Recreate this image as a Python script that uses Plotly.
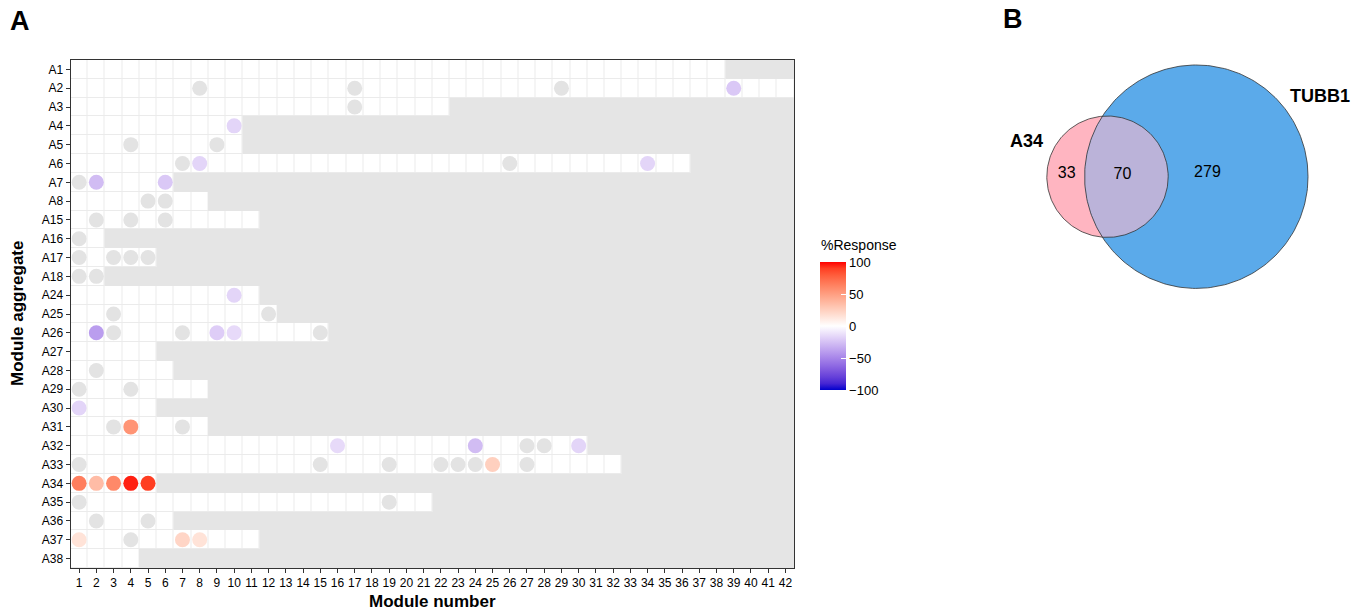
import numpy as np
import plotly.graph_objects as go

# ---------------- data ----------------
aggregates = ["A1", "A2", "A3", "A4", "A5", "A6", "A7", "A8", "A15", "A16", "A17", "A18",
              "A24", "A25", "A26", "A27", "A28", "A29", "A30", "A31", "A32", "A33", "A34",
              "A35", "A36", "A37", "A38"]
# number of modules in each aggregate
module_counts = [38, 42, 22, 10, 10, 36, 6, 8, 11, 2, 5, 2,
                 11, 12, 15, 5, 6, 8, 5, 8, 30, 32, 5,
                 21, 6, 11, 4]

# modules with a significant response (%Response)
resp_aggregate = ["A2", "A4", "A6", "A6", "A7", "A7", "A24",
                  "A26", "A26", "A26", "A30", "A31",
                  "A32", "A32", "A32", "A33",
                  "A34", "A34", "A34", "A34", "A34",
                  "A37", "A37", "A37"]
resp_module = [39, 10, 8, 34, 2, 6, 10,
               2, 9, 10, 1, 4,
               16, 24, 30, 25,
               1, 2, 3, 4, 5,
               1, 7, 8]
resp_value = [-22, -17, -17, -17, -27, -22, -17,
              -40, -20, -15, -17, 55,
              -15, -27, -17, 25,
              65, 35, 60, 95, 90,
              15, 22, 15]

# modules with a non-significant response
ns_aggregate = ["A2", "A2", "A2", "A3", "A5", "A5", "A6", "A6", "A7", "A8", "A8",
                "A15", "A15", "A15", "A16", "A17", "A17", "A17", "A17", "A18", "A18",
                "A25", "A25", "A26", "A26", "A26", "A28", "A29", "A29", "A31", "A31",
                "A32", "A32", "A33", "A33", "A33", "A33", "A33", "A33", "A33",
                "A35", "A35", "A36", "A36", "A37"]
ns_module = [8, 17, 29, 17, 4, 9, 7, 26, 1, 5, 6,
             2, 4, 6, 1, 1, 3, 4, 5, 1, 2,
             3, 12, 3, 7, 15, 2, 1, 4, 3, 7,
             27, 28, 1, 15, 19, 22, 23, 24, 27,
             1, 19, 2, 5, 4]

modules = list(range(1, 43))
cbar_ticks = [-100, -50, 0, 50, 100]

# Venn counts
venn_sets = ["A34", "TUBB1"]
only_a34 = 33
shared = 70
only_tubb1 = 279

# ---------------- helpers ----------------
W, H = 1369, 613
FONT = "Liberation Sans, Arial, sans-serif"


def lab_to_hex(L, a, b):
    fy = (L + 16) / 116
    fx = fy + a / 500
    fz = fy - b / 200

    def finv(t):
        return t ** 3 if t ** 3 > 0.008856 else (t - 16 / 116) / 7.787

    X, Y, Z = 0.95047 * finv(fx), 1.0 * finv(fy), 1.08883 * finv(fz)
    r = 3.2406 * X - 1.5372 * Y - 0.4986 * Z
    g = -0.9689 * X + 1.8758 * Y + 0.0415 * Z
    bb = 0.0557 * X - 0.2040 * Y + 1.0570 * Z

    def gam(c):
        c = min(max(c, 0), 1)
        return 12.92 * c if c <= 0.0031308 else 1.055 * c ** (1 / 2.4) - 0.055

    return "#%02x%02x%02x" % tuple(int(round(gam(c) * 255)) for c in (r, g, bb))


# diverging blue-white-red scale, interpolated in Lab space
lab_blue = (25.0, 67.2, -91.5)
lab_white = (100.0, 0.0, 0.0)
lab_red = (53.24, 80.09, 67.20)
colorscale = []
n_half = 10
for i in range(n_half + 1):
    t = i / n_half
    lab = [lab_blue[k] + (lab_white[k] - lab_blue[k]) * t for k in range(3)]
    colorscale.append([0.5 * t, lab_to_hex(*lab)])
for i in range(1, n_half + 1):
    t = i / n_half
    lab = [lab_white[k] + (lab_red[k] - lab_white[k]) * t for k in range(3)]
    colorscale.append([0.5 + 0.5 * t, lab_to_hex(*lab)])

# cell presence matrix (1 where the aggregate contains the module)
z = [[1 if m <= n else None for m in modules] for n in module_counts]

fig = go.Figure()

# light grid lines under the white tiles
fig.add_trace(go.Heatmap(
    x=modules, y=aggregates, z=z, colorscale=[[0, "#ebebeb"], [1, "#ebebeb"]],
    showscale=False, hoverinfo="skip", xaxis="x", yaxis="y"))
fig.add_trace(go.Heatmap(
    x=modules, y=aggregates, z=z, colorscale=[[0, "#ffffff"], [1, "#ffffff"]],
    showscale=False, xgap=1, ygap=1, hoverinfo="skip", xaxis="x", yaxis="y"))

# non-significant modules
fig.add_trace(go.Scatter(
    x=ns_module, y=ns_aggregate, mode="markers",
    marker=dict(size=15, color="#e3e3e3", line=dict(width=0)),
    showlegend=False, xaxis="x", yaxis="y"))

# significant modules coloured by %Response
fig.add_trace(go.Scatter(
    x=resp_module, y=resp_aggregate, mode="markers",
    marker=dict(size=15, color=resp_value, colorscale=colorscale, cmin=-100, cmax=100,
                line=dict(width=0), showscale=True,
                colorbar=dict(
                    x=820 / W, xanchor="left", xpad=0,
                    y=1 - 390 / H, yanchor="bottom", ypad=0,
                    len=128, lenmode="pixels", thickness=26,
                    outlinewidth=0, tickvals=cbar_ticks,
                    ticks="inside", tickcolor="white", ticklen=5,
                    tickfont=dict(size=13, color="black", family=FONT))),
    showlegend=False, xaxis="x", yaxis="y"))

# ---------------- Venn diagram (area proportional) ----------------
total_a34 = only_a34 + shared
total_tubb1 = only_tubb1 + shared
k = 5.98
r1 = k * np.sqrt(total_a34)
r2 = k * np.sqrt(total_tubb1)
target = np.pi * k ** 2 * shared


def lens_area(d):
    c1 = np.clip((d ** 2 + r1 ** 2 - r2 ** 2) / (2 * d * r1), -1, 1)
    c2 = np.clip((d ** 2 + r2 ** 2 - r1 ** 2) / (2 * d * r2), -1, 1)
    s = max((-d + r1 + r2) * (d + r1 - r2) * (d - r1 + r2) * (d + r1 + r2), 0)
    return r1 ** 2 * np.arccos(c1) + r2 ** 2 * np.arccos(c2) - 0.5 * np.sqrt(s)


lo, hi = abs(r2 - r1) + 1e-6, r1 + r2 - 1e-6
for _ in range(100):
    mid = 0.5 * (lo + hi)
    if lens_area(mid) > target:
        lo = mid
    else:
        hi = mid
d = 0.5 * (lo + hi)

c1x, cy = 1107.5, 176.7
c2x = c1x + d
th = np.linspace(0, 2 * np.pi, 240)

fig.add_trace(go.Scatter(
    x=c1x + r1 * np.cos(th), y=cy + r1 * np.sin(th), mode="lines", fill="toself",
    fillcolor="#ffb5c1", line=dict(width=0), hoverinfo="skip", showlegend=False,
    xaxis="x2", yaxis="y2"))
fig.add_trace(go.Scatter(
    x=c2x + r2 * np.cos(th), y=cy + r2 * np.sin(th), mode="lines", fill="toself",
    fillcolor="#5baaea", line=dict(width=0), hoverinfo="skip", showlegend=False,
    xaxis="x2", yaxis="y2"))

a = (d ** 2 + r1 ** 2 - r2 ** 2) / (2 * d)
hh = np.sqrt(r1 ** 2 - a ** 2)
t1 = np.arctan2(hh, a)
t2 = np.arctan2(hh, d - a)
arc1 = np.linspace(-t1, t1, 120)
arc2 = np.linspace(np.pi - t2, np.pi + t2, 120)
lens_x = np.concatenate([c1x + r1 * np.cos(arc1), c2x + r2 * np.cos(arc2)])
lens_y = np.concatenate([cy + r1 * np.sin(arc1), cy + r2 * np.sin(arc2)])
fig.add_trace(go.Scatter(
    x=lens_x, y=lens_y, mode="lines", fill="toself", fillcolor="#bbb3d9",
    line=dict(width=0), hoverinfo="skip", showlegend=False, xaxis="x2", yaxis="y2"))

for cx, r in ((c1x, r1), (c2x, r2)):
    fig.add_trace(go.Scatter(
        x=cx + r * np.cos(th), y=cy + r * np.sin(th), mode="lines",
        line=dict(width=0.8, color="#333333"), hoverinfo="skip", showlegend=False,
        xaxis="x2", yaxis="y2"))

# region counts
left_edge_a34 = c1x - r1
left_edge_tubb1 = c2x - r2
right_edge_a34 = c1x + r1
fig.add_trace(go.Scatter(
    x=[(left_edge_a34 + left_edge_tubb1) / 2 + 1,
       (left_edge_tubb1 + right_edge_a34) / 2 - 4,
       c2x + 0.1 * r2],
    y=[cy - 3, cy - 2, cy - 4],
    mode="text", text=[str(only_a34), str(shared), str(only_tubb1)],
    textfont=dict(size=16, color="black", family=FONT), hoverinfo="skip",
    showlegend=False, xaxis="x2", yaxis="y2"))

# ---------------- layout ----------------
x2_lo = 0.68 * W
fig.update_layout(
    width=W, height=H, margin=dict(l=0, r=0, t=0, b=0),
    paper_bgcolor="white", plot_bgcolor="white",
    font=dict(family=FONT, color="black"),
    xaxis=dict(domain=[70.5 / W, 794 / W], range=[0.5, 42.5], tickmode="array",
               tickvals=modules, ticktext=[str(m) for m in modules],
               tickfont=dict(size=12, color="black"), ticks="outside", ticklen=4,
               tickcolor="#333333", showgrid=False, zeroline=False,
               showline=True, linecolor="#333333", linewidth=1, mirror=True),
    yaxis=dict(domain=[1 - 568 / H, 1 - 60 / H], range=[len(aggregates) - 0.5, -0.5],
               type="category", categoryorder="array", categoryarray=aggregates,
               tickfont=dict(size=12, color="black"), ticks="outside", ticklen=4,
               tickcolor="#333333", showgrid=False, zeroline=False,
               showline=True, linecolor="#333333", linewidth=1, mirror=True),
    xaxis2=dict(domain=[0.68, 1.0], range=[x2_lo, W], visible=False, fixedrange=True),
    yaxis2=dict(domain=[0, 1], range=[H, 0], visible=False, fixedrange=True),
    shapes=[dict(type="rect", xref="x domain", yref="y domain", x0=0, x1=1, y0=0, y1=1,
                 fillcolor="#e5e5e5", line=dict(width=0), layer="below")],
    annotations=[
        dict(text="<b>A</b>", x=20 / W, y=1 - 21 / H, xref="paper", yref="paper",
             showarrow=False, font=dict(size=27), xanchor="center", yanchor="middle"),
        dict(text="<b>B</b>", x=1013 / W, y=1 - 19 / H, xref="paper", yref="paper",
             showarrow=False, font=dict(size=27), xanchor="center", yanchor="middle"),
        dict(text="<b>Module number</b>", x=432 / W, y=1 - 601 / H, xref="paper",
             yref="paper", showarrow=False, font=dict(size=17),
             xanchor="center", yanchor="middle"),
        dict(text="<b>Module aggregate</b>", x=17 / W, y=1 - 314 / H, xref="paper",
             yref="paper", showarrow=False, font=dict(size=17), textangle=-90,
             xanchor="center", yanchor="middle"),
        dict(text="%Response", x=819 / W, y=1 - 245 / H, xref="paper", yref="paper",
             showarrow=False, font=dict(size=14), xanchor="left", yanchor="middle"),
        dict(text="<b>%s</b>" % venn_sets[0], x=1026 / W, y=1 - 141 / H, xref="paper",
             yref="paper", showarrow=False, font=dict(size=18),
             xanchor="center", yanchor="middle"),
        dict(text="<b>%s</b>" % venn_sets[1], x=1320 / W, y=1 - 96 / H, xref="paper",
             yref="paper", showarrow=False, font=dict(size=18),
             xanchor="center", yanchor="middle"),
    ],
)

fig.write_html("out.html")
